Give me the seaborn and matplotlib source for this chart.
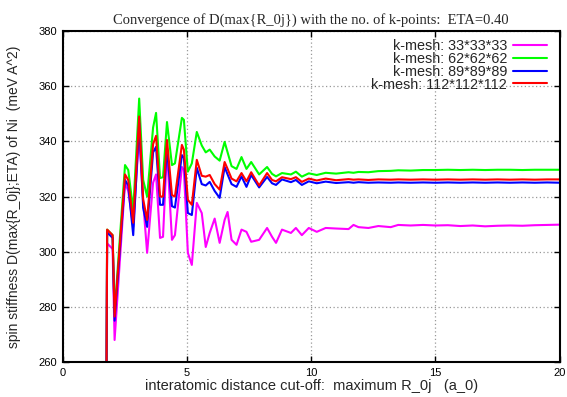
import matplotlib
matplotlib.use("Agg")
import matplotlib.pyplot as plt
import seaborn as sns
import pandas as pd

# shared cut-off radii (a_0)
r_cut = [1.70, 1.78, 2.00, 2.08, 2.50, 2.63, 2.83, 3.07, 3.23, 3.39,
         3.63, 3.75, 3.91, 4.03, 4.19, 4.39, 4.51, 4.79, 4.87, 5.03,
         5.19, 5.39, 5.59, 5.75, 5.91, 6.11, 6.31, 6.51, 6.63, 6.79,
         6.99, 7.19, 7.39, 7.58, 7.90, 8.22, 8.42, 8.58, 8.82, 9.18,
         9.38, 9.62, 9.90, 10.22, 10.58, 11.0, 11.5, 11.7, 11.9, 12.3,
         12.7, 13.2, 13.5, 14.0, 14.5, 15.0, 15.5, 16.0, 16.5, 17.0,
         17.5, 18.0, 18.5, 19.0, 19.5, 20.0]

d_33 = [150, 303, 301, 268, 325, 322, 309, 343, 318, 299.6,
        325, 328, 305, 305.4, 337, 304.3, 306, 330.7, 329.6, 299.6,
        295.2, 317.7, 314, 301.7, 306.8, 312, 303.2, 311.5, 314.4, 304.3,
        302.5, 308, 307.2, 303.6, 304.3, 308.6, 305.4, 303.2, 308, 306.8,
        308.6, 306, 308.6, 307.2, 308.6, 308.4, 308.2, 309.7, 308.9, 308.6,
        309.3, 308.9, 309.7, 309.5, 309.7, 309.5, 309.6, 309.3, 309.5, 309.2,
        309.4, 309.5, 309.4, 309.6, 309.7, 309.8]

d_62 = [150, 308, 306, 278, 331.4, 329.6, 315, 355.5, 326, 320,
        345, 350.3, 326.7, 327, 347, 331.4, 332, 348.5, 347.8, 329,
        332, 343.4, 338.5, 336, 337, 334.5, 333, 339.8, 336, 331,
        330, 334.3, 330, 332.5, 328, 330.7, 328.2, 327.3, 328.5, 328,
        329, 327.2, 328.4, 327.8, 328.6, 328.3, 328.8, 328.6, 328.9, 328.8,
        329.2, 329.3, 329.5, 329.4, 329.6, 329.6, 329.7, 329.6, 329.7, 329.6,
        329.7, 329.7, 329.6, 329.7, 329.7, 329.7]

d_89 = [150, 307, 305, 275, 326, 324, 306, 346.7, 316, 309,
        336, 338, 317, 317, 337.6, 316.5, 316, 335, 334, 314,
        313.3, 330.4, 324.5, 324, 325.3, 322, 319.5, 330.7, 328, 324.5,
        323.5, 327.3, 323.5, 327.8, 323.3, 327.1, 324.8, 324.2, 326.2, 325.2,
        326, 324.2, 325.5, 324.8, 325.4, 324.9, 325.2, 325.0, 325.2, 325.0,
        325.1, 325.0, 325.1, 325.0, 325.1, 325.0, 325.1, 325.0, 325.1, 325.0,
        325.1, 325.0, 325.1, 325.0, 325.1, 325.0]

d_112 = [150, 308, 306, 276.5, 328, 326, 310.5, 349, 319, 311.5,
         339, 342, 320, 320, 340.5, 320.5, 320, 338.7, 337, 318.8,
         317, 333.3, 327.5, 327.2, 327.8, 324.5, 322.5, 332.5, 330, 326.5,
         325.5, 328.5, 325.5, 328.8, 324, 328.5, 326, 325.5, 327, 326.3,
         327, 325.3, 326.5, 325.8, 326.5, 325.9, 326.3, 326.1, 326.2, 326.0,
         326.2, 326.1, 326.2, 326.1, 326.2, 326.1, 326.2, 326.1, 326.2, 326.1,
         326.2, 326.1, 326.2, 326.1, 326.2, 326.2]

labels = ["k-mesh: 33*33*33", "k-mesh: 62*62*62",
          "k-mesh: 89*89*89", "k-mesh: 112*112*112"]
colors = ["#ff00ff", "#00ff00", "#0000ff", "#ff0000"]

frames = []
for lab, vals in zip(labels, [d_33, d_62, d_89, d_112]):
    frames.append(pd.DataFrame({"r": r_cut, "D": vals, "mesh": lab}))
df = pd.concat(frames, ignore_index=True)

sns.set_style("white")
plt.rcParams["font.family"] = ["Liberation Sans", "DejaVu Sans"]

fig = plt.figure(figsize=(5.67, 3.97), dpi=100)
ax = fig.add_axes([0.111, 0.088, 0.876, 0.834])

sns.lineplot(data=df, x="r", y="D", hue="mesh", hue_order=labels,
             palette=colors, estimator=None, sort=False, linewidth=1.5,
             ax=ax)

ax.set_xlim(0, 20)
ax.set_ylim(260, 380)
ax.set_xticks([0, 5, 10, 15, 20])
ax.set_yticks([260, 280, 300, 320, 340, 360, 380])
ax.tick_params(direction="in", length=4, width=1, labelsize=8,
               top=True, right=True, bottom=True, left=True, pad=4,
               colors="black")
ax.grid(True, color="#999999", linestyle=(0, (1, 2)), linewidth=0.9)
for s in ax.spines.values():
    s.set_color("black")
    s.set_linewidth(1.5)

ax.set_xlabel("interatomic distance cut-off:  maximum R_0j   (a_0)",
              fontsize=10.5, labelpad=1)
ax.set_ylabel("spin stiffness D(max{R_0j};ETA) of Ni  (meV A^2)",
              fontsize=10, labelpad=13)
ax.set_title("Convergence of D(max{R_0j}) with the no. of k-points:  ETA=0.40",
             fontsize=10.5, family=["Liberation Serif", "DejaVu Serif"], pad=5)

leg = ax.legend(loc="upper right", bbox_to_anchor=(1 - 13 / 497, 1 - 8 / 331),
                frameon=False, markerfirst=False,
                fontsize=10.4, handlelength=2.35, handletextpad=0.4,
                labelspacing=-0.08, borderaxespad=0.0, borderpad=0.0)
for t in leg.get_texts():
    t.set_ha("right")
leg._legend_box.align = "right"

fig.savefig("out.png", dpi=100)
